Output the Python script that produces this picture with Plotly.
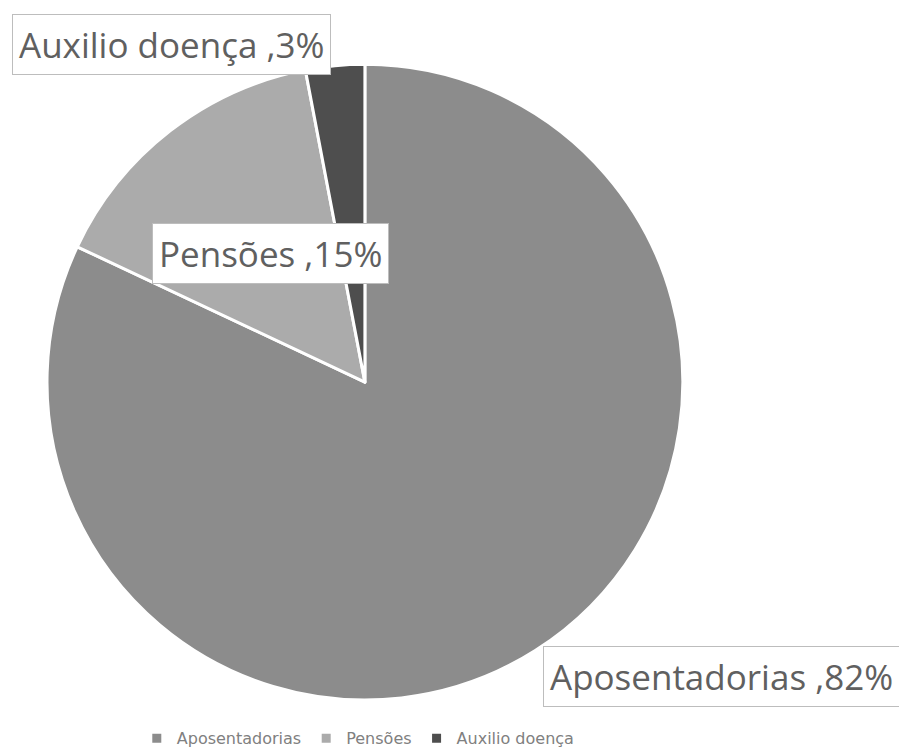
import plotly.graph_objects as go

labels = ["Aposentadorias", "Pensões", "Auxilio doença"]
values = [82, 15, 3]
colors = ["#8c8c8c", "#ababab", "#4e4e4e"]

# label boxes placed by hand (paper coords), like the original chart
label_pos = [(0.787, 0.107), (0.289, 0.672), (0.180, 0.951)]

fig = go.Figure()
fig.add_trace(go.Pie(
    labels=labels, values=values, sort=False, direction="clockwise", rotation=0,
    marker=dict(colors=colors, line=dict(color="white", width=3)),
    textinfo="none", hoverinfo="label+percent",
    domain=dict(x=[0.043, 0.744], y=[0.076, 0.925]),
))

for lab, val, (x, y) in zip(labels, values, label_pos):
    fig.add_annotation(
        x=x, y=y, xref="paper", yref="paper", xanchor="center", yanchor="middle",
        text=f"{lab} ,{val}%", showarrow=False,
        font=dict(family="Open Sans", size=35, color="#606060"),
        bgcolor="white", bordercolor="#bdbdbd", borderwidth=1, borderpad=6,
    )

fig.update_layout(
    width=907, height=749, margin=dict(l=0, r=0, t=0, b=0),
    paper_bgcolor="white", plot_bgcolor="white",
    showlegend=True,
    legend=dict(orientation="h", x=0.142, xanchor="left", y=0.025, yanchor="middle",
                font=dict(family="DejaVu Sans", size=16, color="#808080"),
                itemwidth=30, tracegroupgap=0),
)

fig.write_html("out.html")
